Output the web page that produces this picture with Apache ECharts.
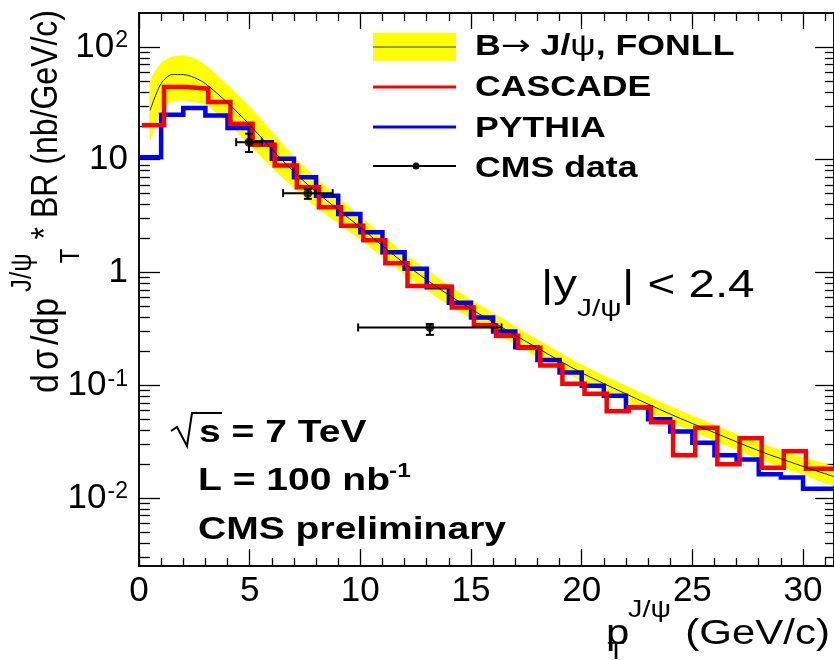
<!DOCTYPE html>
<html>
<head>
<meta charset="utf-8">
<script src="https://cdn.jsdelivr.net/npm/echarts@6/dist/echarts.min.js"></script>
<style>
  html, body { margin: 0; padding: 0; background: #fff; }
  #chart { width: 834px; height: 660px; }
</style>
</head>
<body>
<div id="chart"></div>
<script>
// PYTHIA histogram: bin edges (GeV/c) and contents (nb/GeV/c)
const pythiaEdges = [0, 1, 2, 3, 4, 5, 6, 7, 8, 9, 10, 11, 12, 13, 14, 15, 16, 17, 18, 19, 20,
  21, 22, 23, 24, 25, 26, 27, 28, 29, 30, 31, 32];
const pythia = [10.5, 25.1, 28.7, 24.7, 19.1, 14.3, 10.2, 7.0, 4.8, 3.3, 2.28, 1.51, 1.08, 0.74,
  0.54, 0.40, 0.30, 0.217, 0.168, 0.130, 0.099, 0.081, 0.064, 0.050, 0.039, 0.031, 0.024,
  0.022, 0.0163, 0.0152, 0.0121, 0.0121];

// CASCADE histogram (drawn slightly shifted in the original figure)
const cascadeEdges = [0.13, 1.13, 2.13, 3.13, 4.13, 5.13, 6.13, 7.13, 8.13, 9.13, 10.13, 11.13,
  12.13, 13.13, 14.13, 15.13, 16.13, 17.13, 18.13, 19.13, 20.13, 21.13, 22.13, 23.13, 24.13,
  25.13, 26.13, 27.13, 28.13, 29.13, 30.13, 31.13, 32.13];
const cascade = [20.2, 44.1, 42.7, 32.5, 20.9, 13.6, 8.9, 5.7, 3.8, 2.6, 1.93, 1.21, 0.76, 0.75,
  0.49, 0.34, 0.275, 0.215, 0.15, 0.103, 0.084, 0.059, 0.064, 0.047, 0.024, 0.042, 0.020,
  0.034, 0.0186, 0.026, 0.0182, 0.0182];

// FONLL B -> J/psi prediction: central curve and uncertainty band
const fonllPt = [0.5, 1, 1.5, 2, 2.5, 3, 4, 5, 6, 7, 8, 10, 12, 14, 16, 18, 20, 22, 24, 26, 28, 30, 31.4];
const fonllCentral = [27.4, 47.3, 56.9, 56.9, 53.5, 47.3, 32.0, 20.4, 12.4, 7.8, 5.2, 2.51, 1.20,
  0.63, 0.363, 0.214, 0.129, 0.084, 0.0556, 0.038, 0.0263, 0.0191, 0.0155];
const fonllHigh = [50.1, 72.4, 82.2, 84.1, 79.4, 69.2, 46.2, 29.5, 17.8, 10.7, 6.92, 3.16, 1.48,
  0.767, 0.437, 0.255, 0.152, 0.0991, 0.0652, 0.0445, 0.0309, 0.0229, 0.0188];
const fonllLow = [14.8, 28.5, 32.7, 33.5, 32.4, 30.9, 21.4, 13.5, 8.51, 5.62, 3.80, 1.95, 0.955,
  0.513, 0.299, 0.178, 0.108, 0.0711, 0.047, 0.0322, 0.0221, 0.016, 0.0129];

// CMS data points
const cmsPt = [4.97, 7.63, 13.14];
const cmsPtErr = [0.58, 1.12, 3.24];
const cmsValue = [14.3, 5.05, 0.326];
const cmsValueLow = [11.7, 4.5, 0.28];
const cmsValueHigh = [17.0, 5.5, 0.35];

// axis ticks
const xMajorTicks = [0, 5, 10, 15, 20, 25, 30];
const xMinorTicks = [1, 2, 3, 4, 6, 7, 8, 9, 11, 12, 13, 14, 16, 17, 18, 19, 21, 22, 23, 24,
  26, 27, 28, 29, 31];
const yMajorTicks = [0.01, 0.1, 1, 10, 100];
const yMinorTicks = [0.003, 0.004, 0.005, 0.006, 0.007, 0.008, 0.009,
  0.02, 0.03, 0.04, 0.05, 0.06, 0.07, 0.08, 0.09,
  0.2, 0.3, 0.4, 0.5, 0.6, 0.7, 0.8, 0.9,
  2, 3, 4, 5, 6, 7, 8, 9,
  20, 30, 40, 50, 60, 70, 80, 90];

const FONT = '"Liberation Sans", Arial, Helvetica, sans-serif';

const chart = echarts.init(document.getElementById('chart'));

// histogram as step line: left edge of every bin + closing right edge
const histPoints = (edges, vals) =>
  edges.map((e, i) => [e, vals[Math.min(i, vals.length - 1)]]);

function frameAxis(type, pos, ticks, len, range, label) {
  return {
    type: type,
    position: pos,
    min: range[0],
    max: range[1],
    axisLine: { show: true, onZero: false, lineStyle: { color: '#000', width: 1.5 } },
    axisTick: {
      show: true, inside: true, length: len, customValues: ticks,
      lineStyle: { color: '#000', width: 1.3 },
    },
    axisLabel: label || { show: false },
    splitLine: { show: false },
    minorTick: { show: false },
  };
}

// plain text helper for the graphic layer
function txt(x, y, text, size, opts) {
  const o = opts || {};
  return {
    type: 'text', x: x, y: y,
    rotation: o.rotation || 0,
    scaleX: o.scaleX || 1,
    scaleY: o.scaleY || 1,
    style: {
      text: text,
      font: (o.bold ? 'bold ' : '') + size + 'px ' + FONT,
      align: o.align || 'left',
      verticalAlign: 'middle',
      fill: '#000',
      rich: o.rich,
    },
  };
}

const xRange = [0, 31.4];
const yRange = [0.0025, 200];

const xLabel = {
  show: true, customValues: xMajorTicks, margin: 8, color: '#000',
  fontSize: 35, fontFamily: FONT, hideOverlap: false,
};
const yLabel = {
  show: true, customValues: yMajorTicks, margin: 11, color: '#000',
  fontSize: 35, fontFamily: FONT, hideOverlap: false,
  formatter: (v) => {
    const p = Math.round(Math.log10(v));
    if (p === 0) return '1';
    if (p === 1) return '10';
    return '10{sup|' + p + '}';
  },
  rich: {
    sup: { fontSize: 23, fontFamily: FONT, color: '#000', verticalAlign: 'top', padding: [0, 0, 0, 1] },
  },
};

const option = {
  animation: false,
  backgroundColor: '#fff',
  grid: { left: 139, right: 0, top: 13, bottom: 94, containLabel: false, outerBoundsMode: 'none' },
  xAxis: [
    frameAxis('value', 'bottom', xMajorTicks, 17, xRange, xLabel),
    frameAxis('value', 'bottom', xMinorTicks, 8, xRange),
    frameAxis('value', 'top', xMajorTicks, 16, xRange),
    frameAxis('value', 'top', xMinorTicks, 8, xRange),
  ],
  yAxis: [
    frameAxis('log', 'left', yMajorTicks, 21, yRange, yLabel),
    frameAxis('log', 'left', yMinorTicks, 11, yRange),
    frameAxis('log', 'right', yMajorTicks, 19, yRange),
    frameAxis('log', 'right', yMinorTicks, 9, yRange),
  ],
  series: [
    {
      name: 'FONLL band',
      type: 'custom',
      z: 1,
      silent: true,
      data: [[fonllPt[0], fonllCentral[0]]],
      renderItem: (params, api) => {
        const upper = fonllPt.map((x, i) => api.coord([x, fonllHigh[i]]));
        const lower = fonllPt.map((x, i) => api.coord([x, fonllLow[i]])).reverse();
        return {
          type: 'polygon',
          shape: { points: upper.concat(lower), smooth: 0.15 },
          style: { fill: '#ffff00', stroke: null },
        };
      },
    },
    {
      name: 'PYTHIA',
      type: 'line',
      step: 'end',
      z: 3,
      symbol: 'none',
      data: histPoints(pythiaEdges, pythia),
      lineStyle: { color: '#0000ff', width: 4.5, join: 'miter', cap: 'butt' },
    },
    {
      name: 'CASCADE',
      type: 'line',
      step: 'end',
      z: 4,
      symbol: 'none',
      data: histPoints(cascadeEdges, cascade),
      lineStyle: { color: '#ff0000', width: 4.5, join: 'miter', cap: 'butt' },
    },
    {
      name: 'FONLL',
      type: 'line',
      z: 5,
      symbol: 'none',
      smooth: 0.3,
      data: fonllPt.map((x, i) => [x, fonllCentral[i]]),
      lineStyle: { color: '#1a1a1a', width: 1 },
    },
    {
      name: 'CMS errors',
      type: 'custom',
      z: 6,
      data: cmsPt.map((x, i) => [x, cmsValue[i], x - cmsPtErr[i], x + cmsPtErr[i], cmsValueLow[i], cmsValueHigh[i]]),
      encode: { x: 0, y: 1 },
      renderItem: (params, api) => {
        const c = api.coord([api.value(0), api.value(1)]);
        const xl = api.coord([api.value(2), api.value(1)])[0];
        const xh = api.coord([api.value(3), api.value(1)])[0];
        const yl = api.coord([api.value(0), api.value(4)])[1];
        const yh = api.coord([api.value(0), api.value(5)])[1];
        const st = { stroke: '#000', lineWidth: 2 };
        const cap = 4;
        const seg = (x1, y1, x2, y2) => ({ type: 'line', shape: { x1, y1, x2, y2 }, style: st });
        return {
          type: 'group',
          children: [
            seg(xl, c[1], xh, c[1]),
            seg(xl, c[1] - cap, xl, c[1] + cap),
            seg(xh, c[1] - cap, xh, c[1] + cap),
            seg(c[0], yl, c[0], yh),
            seg(c[0] - cap, yl, c[0] + cap, yl),
            seg(c[0] - cap, yh, c[0] + cap, yh),
          ],
        };
      },
    },
    {
      name: 'CMS data',
      type: 'scatter',
      z: 7,
      symbol: 'circle',
      symbolSize: 9,
      data: cmsPt.map((x, i) => [x, cmsValue[i]]),
      itemStyle: { color: '#000' },
    },
  ],
  graphic: [
    // legend
    { type: 'rect', shape: { x: 373, y: 33, width: 83, height: 28 }, style: { fill: '#ffff00' } },
    { type: 'line', shape: { x1: 373, y1: 47, x2: 456, y2: 47 }, style: { stroke: '#7a7a50', lineWidth: 1.5 } },
    { type: 'line', shape: { x1: 373, y1: 87, x2: 456, y2: 87 }, style: { stroke: '#ff0000', lineWidth: 3 } },
    { type: 'line', shape: { x1: 373, y1: 127, x2: 456, y2: 127 }, style: { stroke: '#0000ff', lineWidth: 3 } },
    { type: 'line', shape: { x1: 373, y1: 166, x2: 456, y2: 166 }, style: { stroke: '#000', lineWidth: 2 } },
    { type: 'circle', shape: { cx: 416, cy: 166, r: 3.5 }, style: { fill: '#000' } },
    txt(475, 47, '{b|B}{a|\u2192}{b| J/}{n|\u03c8}{b|, FONLL}', 29, {
      scaleX: 1.23,
      rich: {
        b: { fontSize: 29, fontWeight: 'bold', fontFamily: FONT },
        a: { fontSize: 29, fontFamily: '"DejaVu Sans", sans-serif' },
        n: { fontSize: 29, fontFamily: FONT },
      },
    }),
    txt(475, 88, 'CASCADE', 29, { bold: true, scaleX: 1.23 }),
    txt(475, 129, 'PYTHIA', 29, { bold: true, scaleX: 1.23 }),
    txt(475, 169, 'CMS data', 29, { bold: true, scaleX: 1.23 }),

    // rapidity cut
    txt(541, 287, '|y', 38, { scaleX: 1.25 }),
    txt(577, 309, 'J/\u03c8', 24, { scaleX: 1.25 }),
    txt(622, 287, '| < 2.4', 38, { scaleX: 1.25 }),

    // run conditions
    { type: 'polyline', shape: { points: [[171, 431], [177, 427], [187, 446], [192, 413], [222, 413]] }, style: { stroke: '#000', lineWidth: 2, fill: null } },
    txt(199, 433, 's = 7 TeV', 32, { bold: true, scaleX: 1.22 }),
    txt(198, 481, 'L = 100 nb', 32, { bold: true, scaleX: 1.22 }),
    txt(389, 471, '-1', 20, { bold: true, scaleX: 1.22 }),
    txt(198, 530, 'CMS preliminary', 32, { bold: true, scaleX: 1.22 }),

    // y axis title (rotated, reads bottom to top)
    txt(47, 393, 'd{s|\u03c3}/dp', 34, {
      rotation: Math.PI / 2, scaleY: 1.15,
      rich: { s: { fontSize: 34, fontFamily: FONT, padding: [0, 4, 0, 4] } },
    }),
    txt(23, 292, 'J/\u03c8', 26, { rotation: Math.PI / 2, scaleY: 1.15 }),
    txt(71, 256, 'T', 24, { rotation: Math.PI / 2, align: 'center', scaleY: 1.15 }),
    txt(47, 10, '* BR (nb/GeV/c)', 32, { rotation: Math.PI / 2, align: 'right', scaleY: 1.15 }),

    // x axis title
    txt(606, 634, 'p', 35, { scaleX: 1.2 }),
    txt(628, 610, 'J/\u03c8', 24, { scaleX: 1.2 }),
    txt(616, 652, 'T', 24, { align: 'center', scaleX: 1.2 }),
    txt(830, 634, '(GeV/c)', 35, { align: 'right', scaleX: 1.2 }),
  ],
};

chart.setOption(option);
</script>
</body>
</html>
